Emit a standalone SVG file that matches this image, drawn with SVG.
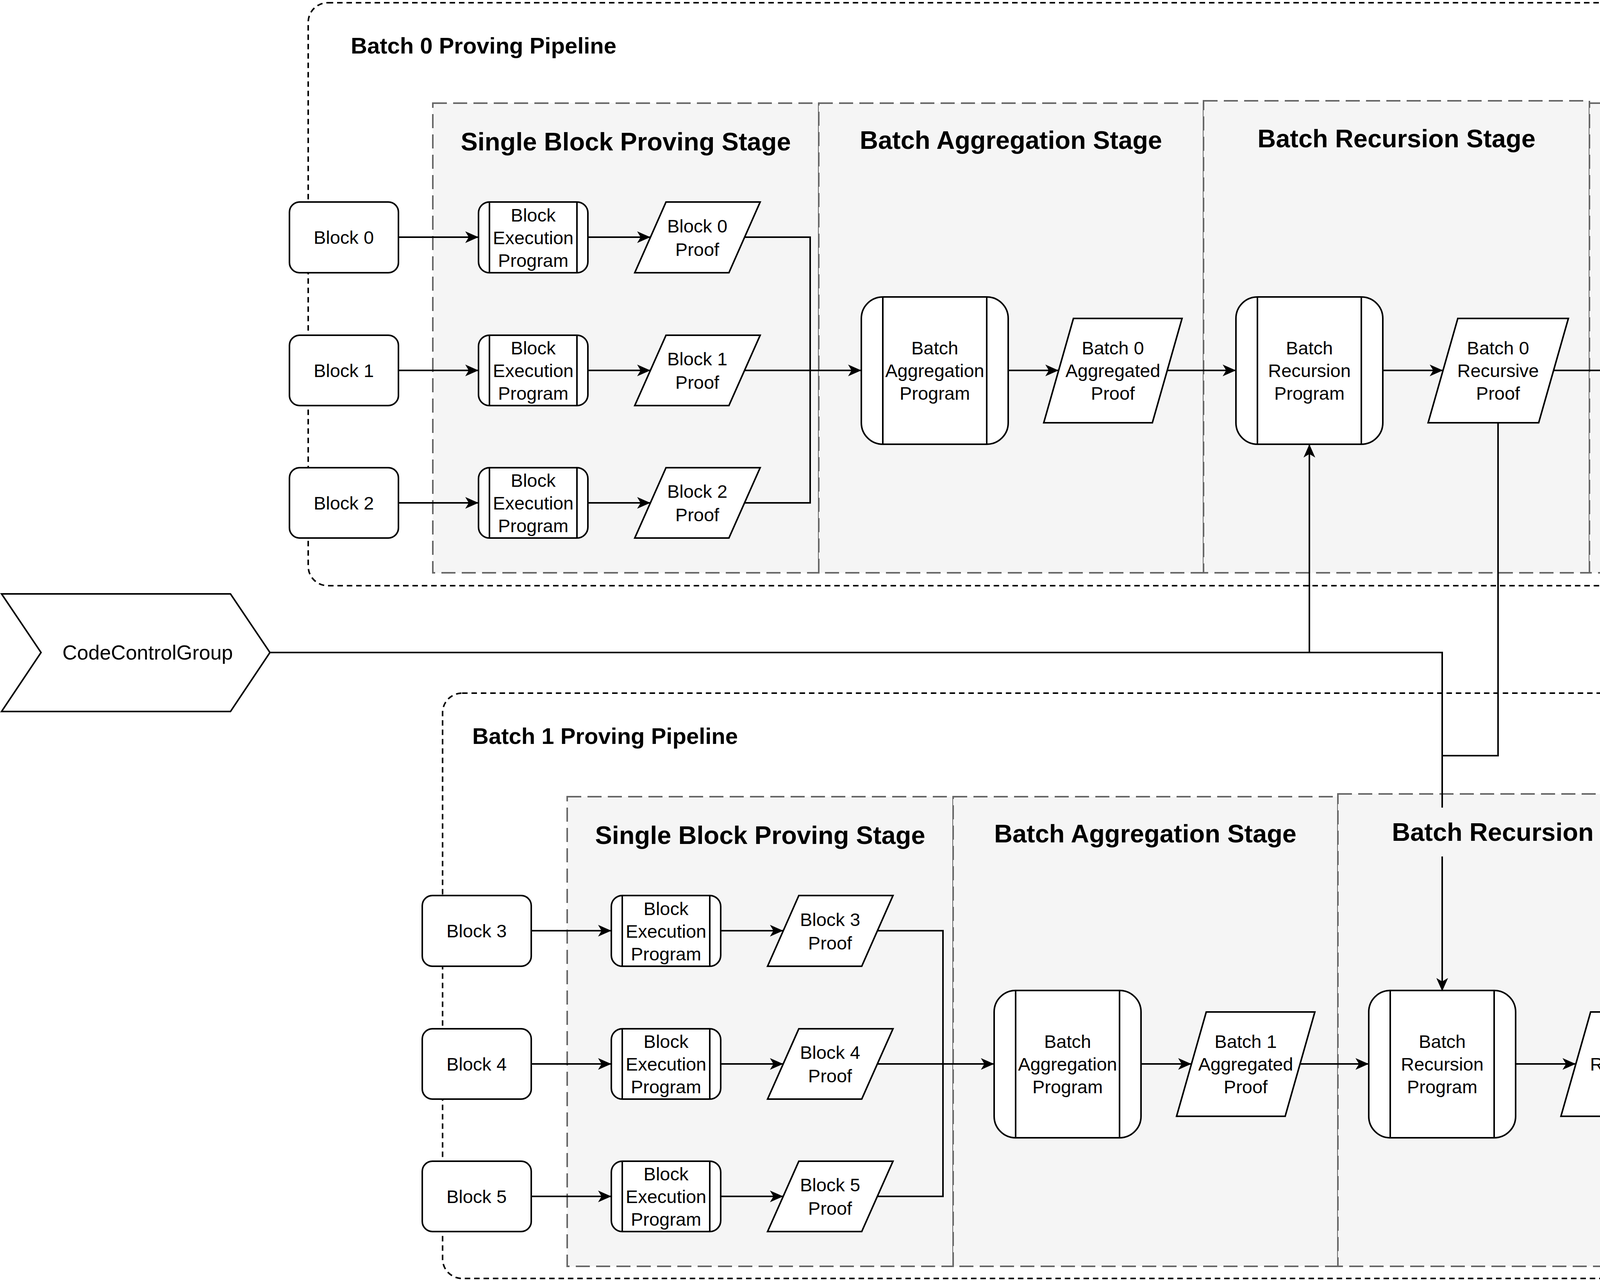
<svg xmlns="http://www.w3.org/2000/svg" width="5672" height="3276" viewBox="0 0 5672 3276">
<style>
text{font-family:"Liberation Sans",Arial,sans-serif;fill:#000;text-anchor:middle;dominant-baseline:central}
.t{font-size:47px}
.st{font-size:65px;font-weight:bold}
.pt{font-size:58px;font-weight:bold;text-anchor:start}
.n{fill:#fff;stroke:#000;stroke-width:4}
.ln{fill:none;stroke:#000;stroke-width:4}
.stage{fill:#f5f5f5;stroke:#666;stroke-width:4;stroke-dasharray:36 16}
.outer{fill:none;stroke:#000;stroke-width:4;stroke-dasharray:14 10}
.e{fill:none;stroke:#000;stroke-width:4}
.a{marker-end:url(#ar)}
</style>
<defs>
<marker id="ar" markerUnits="userSpaceOnUse" markerWidth="40" markerHeight="40" refX="34" refY="15" orient="auto" viewBox="0 0 40 30">
<path d="M0,0 L34,15 L0,30 L9,15 Z" fill="#000"/>
</marker>
</defs>
<rect width="5672" height="3276" fill="#fff"/>

<!-- Batch 0 -->
<g id="pipeline0">
<rect class="outer" x="789" y="7" width="4301" height="1492" rx="50"/>
<text class="pt" x="898" y="116">Batch 0 Proving Pipeline</text>
<rect class="stage" x="1108" y="264" width="988" height="1202"/>
<rect class="stage" x="2096" y="264" width="985" height="1202"/>
<rect class="stage" x="3081" y="258" width="988" height="1208"/>
<rect class="stage" x="4069" y="264" width="988" height="1202"/>
<text class="st" x="1602" y="362">Single Block Proving Stage</text>
<text class="st" x="2588" y="358">Batch Aggregation Stage</text>
<text class="st" x="3575" y="354">Batch Recursion Stage</text>
<text class="st" x="4563" y="358">Proof Wrapping Stage</text>
</g>
<g id="pipeline1" transform="translate(344,1767)">
<rect class="outer" x="789" y="7" width="4301" height="1498" rx="50"/>
<text class="pt" x="865" y="116">Batch 1 Proving Pipeline</text>
<rect class="stage" x="1108" y="272" width="988" height="1202"/>
<rect class="stage" x="2096" y="272" width="985" height="1202"/>
<rect class="stage" x="3081" y="265" width="988" height="1209"/>
<rect class="stage" x="4069" y="272" width="988" height="1202"/>
<text class="st" x="1602" y="370">Single Block Proving Stage</text>
<text class="st" x="2588" y="366">Batch Aggregation Stage</text>
<text class="st" x="3575" y="362">Batch Recursion Stage</text>
<text class="st" x="4563" y="366">Proof Wrapping Stage</text>
</g>

<!-- connectors -->
<g id="connectors">
<!-- batch 0 -->
<path class="e a" d="M1020,607 H1225"/>
<path class="e a" d="M1020,948 H1225"/>
<path class="e a" d="M1020,1287 H1225"/>
<path class="e a" d="M1505,607 H1665"/>
<path class="e a" d="M1505,948 H1665"/>
<path class="e a" d="M1505,1287 H1665"/>
<path class="e" d="M1906,607 H2074 V1287 H1906"/>
<path class="e a" d="M1906,948 H2205"/>
<path class="e a" d="M2581,948 H2710"/>
<path class="e a" d="M2988,948 H3164"/>
<path class="e a" d="M3540,948 H3694"/>
<path class="e a" d="M3977,948 H4232"/>
<path class="e a" d="M4612,948 H4867"/>
<!-- batch 1 -->
<g transform="translate(340,1775)">
<path class="e a" d="M1020,607 H1225"/>
<path class="e a" d="M1020,948 H1225"/>
<path class="e a" d="M1020,1287 H1225"/>
<path class="e a" d="M1505,607 H1665"/>
<path class="e a" d="M1505,948 H1665"/>
<path class="e a" d="M1505,1287 H1665"/>
<path class="e" d="M1906,607 H2074 V1287 H1906"/>
<path class="e a" d="M1906,948 H2205"/>
<path class="e a" d="M2581,948 H2710"/>
<path class="e a" d="M2988,948 H3164"/>
<path class="e a" d="M3540,948 H3694"/>
<path class="e a" d="M3977,948 H4232"/>
<path class="e a" d="M4612,948 H4867"/>
</g>
<!-- control group / cross links -->
<path class="e a" d="M691,1670 H3352 V1137"/>
<path class="e" d="M3352,1670 H3692 V2067"/>
<path class="e a" d="M3692,2192 V2537"/>
<path class="e" d="M3835,1082 V1934 H3692"/>
</g>

<!-- nodes batch 0 -->
<g id="ccg"><polygon class="n" points="4,1520 590,1520 691,1670 590,1821 4,1821 105,1670"/><text x="378" y="1670" style="font-size:52px">CodeControlGroup</text></g>

<g id="block0"><rect class="n" x="741" y="517" width="279" height="181" rx="26"/><text class="t" x="880" y="607">Block 0</text></g>
<g id="block1"><rect class="n" x="741" y="858" width="279" height="180" rx="26"/><text class="t" x="880" y="948">Block 1</text></g>
<g id="block2"><rect class="n" x="741" y="1197" width="279" height="180" rx="26"/><text class="t" x="880" y="1287">Block 2</text></g>

<g id="bep0"><rect class="n" x="1225" y="517" width="280" height="181" rx="28"/><path class="ln" d="M1253,517 V698 M1477,517 V698"/><text class="t" x="1365" y="550">Block</text><text class="t" x="1365" y="608">Execution</text><text class="t" x="1365" y="666">Program</text></g>
<g id="bep1"><rect class="n" x="1225" y="858" width="280" height="180" rx="28"/><path class="ln" d="M1253,858 V1038 M1477,858 V1038"/><text class="t" x="1365" y="890">Block</text><text class="t" x="1365" y="948">Execution</text><text class="t" x="1365" y="1006">Program</text></g>
<g id="bep2"><rect class="n" x="1225" y="1197" width="280" height="180" rx="28"/><path class="ln" d="M1253,1197 V1377 M1477,1197 V1377"/><text class="t" x="1365" y="1229">Block</text><text class="t" x="1365" y="1287">Execution</text><text class="t" x="1365" y="1345">Program</text></g>

<g id="proof0"><polygon class="n" points="1705,517 1946,517 1866,698 1625,698"/><text class="t" x="1785" y="578">Block 0</text><text class="t" x="1785" y="638">Proof</text></g>
<g id="proof1"><polygon class="n" points="1705,858 1946,858 1866,1038 1625,1038"/><text class="t" x="1785" y="918">Block 1</text><text class="t" x="1785" y="978">Proof</text></g>
<g id="proof2"><polygon class="n" points="1705,1197 1946,1197 1866,1377 1625,1377"/><text class="t" x="1785" y="1257">Block 2</text><text class="t" x="1785" y="1317">Proof</text></g>

<g id="agg0"><rect class="n" x="2205" y="760" width="376" height="377" rx="55"/><path class="ln" d="M2260,760 V1137 M2526,760 V1137"/><text class="t" x="2393" y="890">Batch</text><text class="t" x="2393" y="948">Aggregation</text><text class="t" x="2393" y="1006">Program</text></g>
<g id="aggproof0"><polygon class="n" points="2748,815 3026,815 2950,1082 2672,1082"/><text class="t" x="2849" y="890">Batch 0</text><text class="t" x="2849" y="948">Aggregated</text><text class="t" x="2849" y="1006">Proof</text></g>
<g id="rec0"><rect class="n" x="3164" y="760" width="376" height="377" rx="55"/><path class="ln" d="M3219,760 V1137 M3485,760 V1137"/><text class="t" x="3352" y="890">Batch</text><text class="t" x="3352" y="948">Recursion</text><text class="t" x="3352" y="1006">Program</text></g>
<g id="recproof0"><polygon class="n" points="3732,815 4015,815 3939,1082 3656,1082"/><text class="t" x="3835" y="890">Batch 0</text><text class="t" x="3835" y="948">Recursive</text><text class="t" x="3835" y="1006">Proof</text></g>
<g id="wrap0"><rect class="n" x="4232" y="760" width="380" height="377" rx="55"/><path class="ln" d="M4287,760 V1137 M4557,760 V1137"/><text class="t" x="4422" y="920">Wrapping</text><text class="t" x="4422" y="978">Program</text></g>
<g id="wrapproof0"><polygon class="n" points="4905,815 5187,815 5111,1082 4829,1082"/><text class="t" x="5008" y="890">Batch 0</text><text class="t" x="5008" y="948">Wrapped</text><text class="t" x="5008" y="1006">Proof</text></g>

<!-- nodes batch 1 -->
<g id="block3" transform="translate(340,1775)"><rect class="n" x="741" y="517" width="279" height="181" rx="26"/><text class="t" x="880" y="607">Block 3</text></g>
<g id="block4" transform="translate(340,1775)"><rect class="n" x="741" y="858" width="279" height="180" rx="26"/><text class="t" x="880" y="948">Block 4</text></g>
<g id="block5" transform="translate(340,1775)"><rect class="n" x="741" y="1197" width="279" height="180" rx="26"/><text class="t" x="880" y="1287">Block 5</text></g>
<g id="bep3" transform="translate(340,1775)"><rect class="n" x="1225" y="517" width="280" height="181" rx="28"/><path class="ln" d="M1253,517 V698 M1477,517 V698"/><text class="t" x="1365" y="550">Block</text><text class="t" x="1365" y="608">Execution</text><text class="t" x="1365" y="666">Program</text></g>
<g id="bep4" transform="translate(340,1775)"><rect class="n" x="1225" y="858" width="280" height="180" rx="28"/><path class="ln" d="M1253,858 V1038 M1477,858 V1038"/><text class="t" x="1365" y="890">Block</text><text class="t" x="1365" y="948">Execution</text><text class="t" x="1365" y="1006">Program</text></g>
<g id="bep5" transform="translate(340,1775)"><rect class="n" x="1225" y="1197" width="280" height="180" rx="28"/><path class="ln" d="M1253,1197 V1377 M1477,1197 V1377"/><text class="t" x="1365" y="1229">Block</text><text class="t" x="1365" y="1287">Execution</text><text class="t" x="1365" y="1345">Program</text></g>
<g id="proof3" transform="translate(340,1775)"><polygon class="n" points="1705,517 1946,517 1866,698 1625,698"/><text class="t" x="1785" y="578">Block 3</text><text class="t" x="1785" y="638">Proof</text></g>
<g id="proof4" transform="translate(340,1775)"><polygon class="n" points="1705,858 1946,858 1866,1038 1625,1038"/><text class="t" x="1785" y="918">Block 4</text><text class="t" x="1785" y="978">Proof</text></g>
<g id="proof5" transform="translate(340,1775)"><polygon class="n" points="1705,1197 1946,1197 1866,1377 1625,1377"/><text class="t" x="1785" y="1257">Block 5</text><text class="t" x="1785" y="1317">Proof</text></g>
<g id="agg1" transform="translate(340,1775)"><rect class="n" x="2205" y="760" width="376" height="377" rx="55"/><path class="ln" d="M2260,760 V1137 M2526,760 V1137"/><text class="t" x="2393" y="890">Batch</text><text class="t" x="2393" y="948">Aggregation</text><text class="t" x="2393" y="1006">Program</text></g>
<g id="aggproof1" transform="translate(340,1775)"><polygon class="n" points="2748,815 3026,815 2950,1082 2672,1082"/><text class="t" x="2849" y="890">Batch 1</text><text class="t" x="2849" y="948">Aggregated</text><text class="t" x="2849" y="1006">Proof</text></g>
<g id="rec1" transform="translate(340,1775)"><rect class="n" x="3164" y="760" width="376" height="377" rx="55"/><path class="ln" d="M3219,760 V1137 M3485,760 V1137"/><text class="t" x="3352" y="890">Batch</text><text class="t" x="3352" y="948">Recursion</text><text class="t" x="3352" y="1006">Program</text></g>
<g id="recproof1" transform="translate(340,1775)"><polygon class="n" points="3732,815 4015,815 3939,1082 3656,1082"/><text class="t" x="3835" y="890">Batch 1</text><text class="t" x="3835" y="948">Recursive</text><text class="t" x="3835" y="1006">Proof</text></g>
<g id="wrap1" transform="translate(340,1775)"><rect class="n" x="4232" y="760" width="380" height="377" rx="55"/><path class="ln" d="M4287,760 V1137 M4557,760 V1137"/><text class="t" x="4422" y="920">Wrapping</text><text class="t" x="4422" y="978">Program</text></g>
<g id="wrapproof1" transform="translate(340,1775)"><polygon class="n" points="4905,815 5187,815 5111,1082 4829,1082"/><text class="t" x="5008" y="890">Batch 1</text><text class="t" x="5008" y="948">Wrapped</text><text class="t" x="5008" y="1006">Proof</text></g>
</svg>
